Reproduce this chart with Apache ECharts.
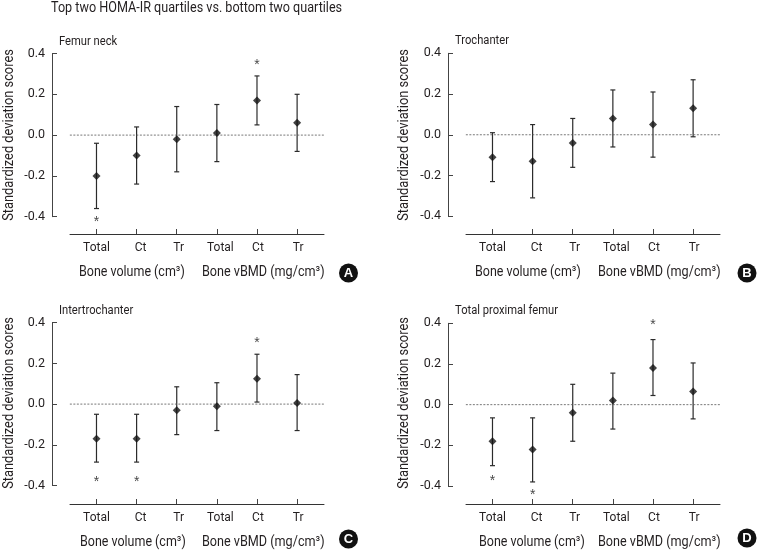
<!DOCTYPE html>
<html><head><meta charset="utf-8">
<style>html,body{margin:0;padding:0;background:#fff}#c{width:758px;height:550px}</style>
<script src="https://cdn.jsdelivr.net/npm/echarts@6/dist/echarts.min.js"></script>
</head><body><div id="c"></div>
<script>
const measures = ['Total','Ct','Tr','Total','Ct','Tr'];
const yTicks = [-0.4,-0.2,0,0.2,0.4];
const figureTitle = 'Top two HOMA-IR quartiles vs. bottom two quartiles';
const yName = 'Standardized deviation scores';
const groupVolume = 'Bone volume (cm³)';
const groupDensity = 'Bone vBMD (mg/cm³)';

const panelNames = ['Femur neck','Trochanter','Intertrochanter','Total proximal femur'];
const panelLetters = ['A','B','C','D'];

const meanA = [-0.20,-0.10,-0.02,0.01,0.17,0.06];
const lowA  = [-0.36,-0.24,-0.18,-0.13,0.05,-0.08];
const highA = [-0.04,0.04,0.14,0.15,0.29,0.20];
const starsA = [[0,-0.415],[4,0.355]];

const meanB = [-0.11,-0.13,-0.04,0.08,0.05,0.13];
const lowB  = [-0.23,-0.31,-0.16,-0.06,-0.11,-0.01];
const highB = [0.01,0.05,0.08,0.22,0.21,0.27];
const starsB = [];

const meanC = [-0.17,-0.17,-0.03,-0.01,0.125,0.005];
const lowC  = [-0.285,-0.285,-0.15,-0.13,0.01,-0.13];
const highC = [-0.05,-0.05,0.085,0.105,0.245,0.145];
const starsC = [[0,-0.375],[1,-0.375],[4,0.31]];

const meanD = [-0.18,-0.22,-0.04,0.02,0.18,0.065];
const lowD  = [-0.30,-0.38,-0.18,-0.12,0.045,-0.07];
const highD = [-0.065,-0.065,0.10,0.155,0.32,0.205];
const starsD = [[0,-0.365],[1,-0.435],[4,0.40]];

const means = [meanA,meanB,meanC,meanD];
const lows = [lowA,lowB,lowC,lowD];
const highs = [highA,highB,highC,highD];
const stars = [starsA,starsB,starsC,starsD];

// layout
const FONT = 'Roboto,"Liberation Sans",sans-serif';
const INK = '#231f20';
const frames = [
  {left:70, top:53.5, bottom:216.7, titleX:59, titleY:42, gv:79, gd:202, gy:272, badge:[348.5,273], nameX:9,  nameY:135},
  {left:466,top:53.3, bottom:216.2, titleX:455,titleY:41, gv:475,gd:598, gy:272, badge:[747,273],  nameX:404,nameY:135},
  {left:70, top:322.7,bottom:485.5, titleX:59, titleY:311,gv:80, gd:202, gy:542, badge:[348.5,539],nameX:9,  nameY:403},
  {left:466,top:323.3,bottom:486,   titleX:455,titleY:311,gv:479,gd:598, gy:542, badge:[747,538],  nameX:404,nameY:403}
];
const axisBase = [234,234,504,504];
const labelShift = [0,8,4,7,2,2];
const W = 254, XMIN = -0.66, XMAX = 5.67;

const grid=[],xAxis=[],yAxis=[],series=[],graphic=[];
const txt=(text,x,y,size,scale,extra)=>({type:'text',x,y,scaleX:scale,silent:true,
  style:{text,fill:INK,fontFamily:FONT,fontSize:size,align:'left',verticalAlign:'middle'},...extra});
graphic.push(txt(figureTitle,51,8,14.5,0.87));

frames.forEach((f,p)=>{
  grid.push({left:f.left,top:f.top,width:W,height:f.bottom-f.top});
  xAxis.push({
    gridIndex:p,type:'value',min:XMIN,max:XMAX,offset:axisBase[p]-f.bottom,
    splitLine:{show:false},
    axisLine:{show:true,onZero:false,lineStyle:{color:'#333',width:1}},
    axisTick:{show:true,inside:true,length:5,customValues:[0,1,2,3,4,5],lineStyle:{color:'#444'}},
    axisLabel:{show:true,customValues:[0,1,2,3,4,5],margin:8,color:INK,fontFamily:FONT,fontSize:12,
      formatter:v=>'{s'+v+'|'+measures[v]+'}',
      rich:Object.fromEntries(labelShift.map((s,i)=>['s'+i,{padding:[0,0,0,s],fontFamily:FONT,fontSize:12,color:INK}]))}
  });
  yAxis.push({
    gridIndex:p,type:'value',min:yTicks[0],max:yTicks[yTicks.length-1],interval:0.2,offset:18,
    splitLine:{show:false},
    axisLine:{show:true,onZero:false,lineStyle:{color:'#444',width:1}},
    axisTick:{show:true,inside:true,length:5,lineStyle:{color:'#444'}},
    axisLabel:{margin:7,color:INK,fontFamily:FONT,fontSize:12.5,formatter:v=>Math.abs(v)<1e-9?'0.0':v.toFixed(1)}
  });
  // zero reference
  series.push({type:'line',xAxisIndex:p,yAxisIndex:p,data:[[-1.1,0],[XMAX,0]],clip:false,symbol:'none',silent:true,
    lineStyle:{color:'#555',width:0.8,type:[2,1.5]}});
  // whiskers
  series.push({type:'custom',xAxisIndex:p,yAxisIndex:p,clip:false,silent:true,
    data:measures.map((m,i)=>[i,lows[p][i],highs[p][i]]),
    encode:{x:0,y:[1,2]},
    renderItem:(params,api)=>{
      const x=api.value(0),a=api.coord([x,api.value(1)]),b=api.coord([x,api.value(2)]),c=2.5;
      const st={stroke:'#2b2b2b',lineWidth:1.2,fill:'none'};
      return {type:'group',children:[
        {type:'line',shape:{x1:a[0],y1:a[1],x2:b[0],y2:b[1]},style:st},
        {type:'line',shape:{x1:a[0]-c,y1:a[1],x2:a[0]+c,y2:a[1]},style:st},
        {type:'line',shape:{x1:b[0]-c,y1:b[1],x2:b[0]+c,y2:b[1]},style:st}
      ]};
    }});
  // means
  series.push({type:'scatter',xAxisIndex:p,yAxisIndex:p,clip:false,silent:true,symbol:'diamond',symbolSize:8,z:5,
    data:means[p].map((v,i)=>[i,v]),itemStyle:{color:'#111'}});
  // significance marks
  series.push({type:'scatter',xAxisIndex:p,yAxisIndex:p,clip:false,silent:true,symbol:'circle',symbolSize:1,z:5,
    data:stars[p],itemStyle:{color:'transparent'},
    label:{show:true,position:'inside',formatter:'*',fontFamily:'"Liberation Sans",sans-serif',fontSize:14,color:'#111',offset:[0,2]}});
  graphic.push(txt(panelNames[p],f.titleX,f.titleY,13,0.86));
  graphic.push(txt(groupVolume,f.gv,f.gy,14.5,0.86));
  graphic.push(txt(groupDensity,f.gd,f.gy,14.5,0.87));
  graphic.push({type:'text',x:f.nameX,y:f.nameY,rotation:Math.PI/2,scaleX:0.885,silent:true,
    style:{text:yName,fill:INK,fontFamily:FONT,fontSize:14.5,align:'center',verticalAlign:'middle'}});
  graphic.push({type:'circle',shape:{cx:f.badge[0],cy:f.badge[1],r:9.5},style:{fill:'#111'},silent:true});
  graphic.push({type:'text',x:f.badge[0],y:f.badge[1],silent:true,style:{text:panelLetters[p],fill:'#fff',align:'center',verticalAlign:'middle',
    fontFamily:'"Liberation Sans",sans-serif',fontWeight:'bold',fontSize:13}});
});

echarts.init(document.getElementById('c'),null,{renderer:'canvas'}).setOption({
  animation:false,backgroundColor:'#fff',grid,xAxis,yAxis,series,graphic,tooltip:{show:false}
});
</script></body></html>
